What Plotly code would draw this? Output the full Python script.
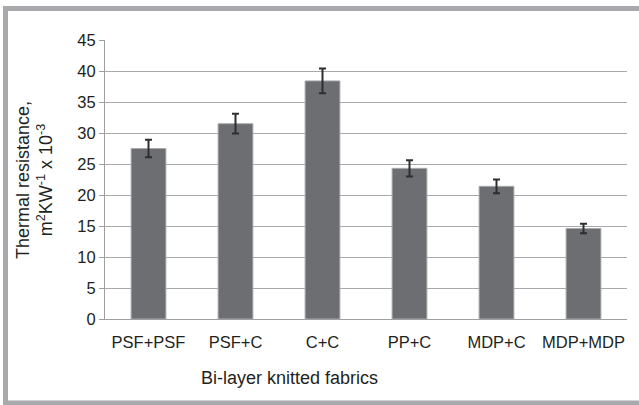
import plotly.graph_objects as go

categories = ["PSF+PSF", "PSF+C", "C+C", "PP+C", "MDP+C", "MDP+MDP"]
values = [27.5, 31.5, 38.4, 24.3, 21.4, 14.6]
errors = [1.4, 1.6, 2.0, 1.3, 1.1, 0.75]
y_ticks = [0, 5, 10, 15, 20, 25, 30, 35, 40, 45]

W, H = 639, 405
L, R, T, B = 105, 12, 40, 86
PW, PH = W - L - R, H - T - B


def px(x):
    return (x - L) / PW


def py(y):
    return (H - B - y) / PH


fig = go.Figure()
fig.add_trace(go.Bar(
    x=categories, y=values,
    marker=dict(color="#6d6e71", line=dict(color="#a9aaad", width=1)),
    error_y=dict(type="data", array=errors, visible=True,
                 color="#2e2e2e", thickness=2, width=3.5),
    width=0.4,
))

font = "Liberation Sans, Arial, sans-serif"
txt = "#231f20"
border = "#a7a9ac"
fig.update_layout(
    width=W, height=H,
    margin=dict(l=L, r=R, t=T, b=B, autoexpand=False),
    paper_bgcolor="white", plot_bgcolor="white",
    showlegend=False,
    font=dict(family=font, size=16, color=txt),
    bargap=0.6,
    xaxis=dict(
        showline=True, linecolor="#9d9fa2", linewidth=1,
        ticks="", showgrid=False, automargin=False,
        ticklabelstandoff=8,
        tickfont=dict(size=16.5, color=txt),
    ),
    yaxis=dict(
        range=[0, 45], tickvals=y_ticks, automargin=False,
        showline=True, linecolor="#9d9fa2", linewidth=1,
        ticks="outside", ticklen=5, tickcolor="#9d9fa2",
        showgrid=True, gridcolor="#a7a9ac", gridwidth=1,
        zeroline=False,
        tickfont=dict(size=16.5, color=txt),
    ),
    annotations=[
        dict(text="Thermal resistance,<br>m<sup>2</sup>KW<sup>-1</sup> x 10<sup>-3</sup>",
             xref="paper", yref="paper", x=px(34), y=py(180),
             xanchor="center", yanchor="middle",
             textangle=-90, showarrow=False,
             font=dict(size=18, color=txt)),
        dict(text="Bi-layer knitted fabrics",
             xref="paper", yref="paper", x=px(289), y=py(378),
             xanchor="center", yanchor="middle", showarrow=False,
             font=dict(size=18, color=txt)),
    ],
    shapes=[
        dict(type="line", xref="paper", yref="paper",
             x0=px(3), x1=px(645), y0=py(8.5), y1=py(8.5),
             line=dict(color=border, width=5)),
        dict(type="line", xref="paper", yref="paper",
             x0=px(5.5), x1=px(5.5), y0=py(6), y1=py(406),
             line=dict(color=border, width=5)),
        dict(type="line", xref="paper", yref="paper",
             x0=px(3), x1=px(645), y0=py(403), y1=py(403),
             line=dict(color=border, width=5)),
    ],
)

fig.write_html("out.html",
               config={"displayModeBar": False},
               post_script="document.body.style.margin='0';document.body.style.overflow='hidden';")
